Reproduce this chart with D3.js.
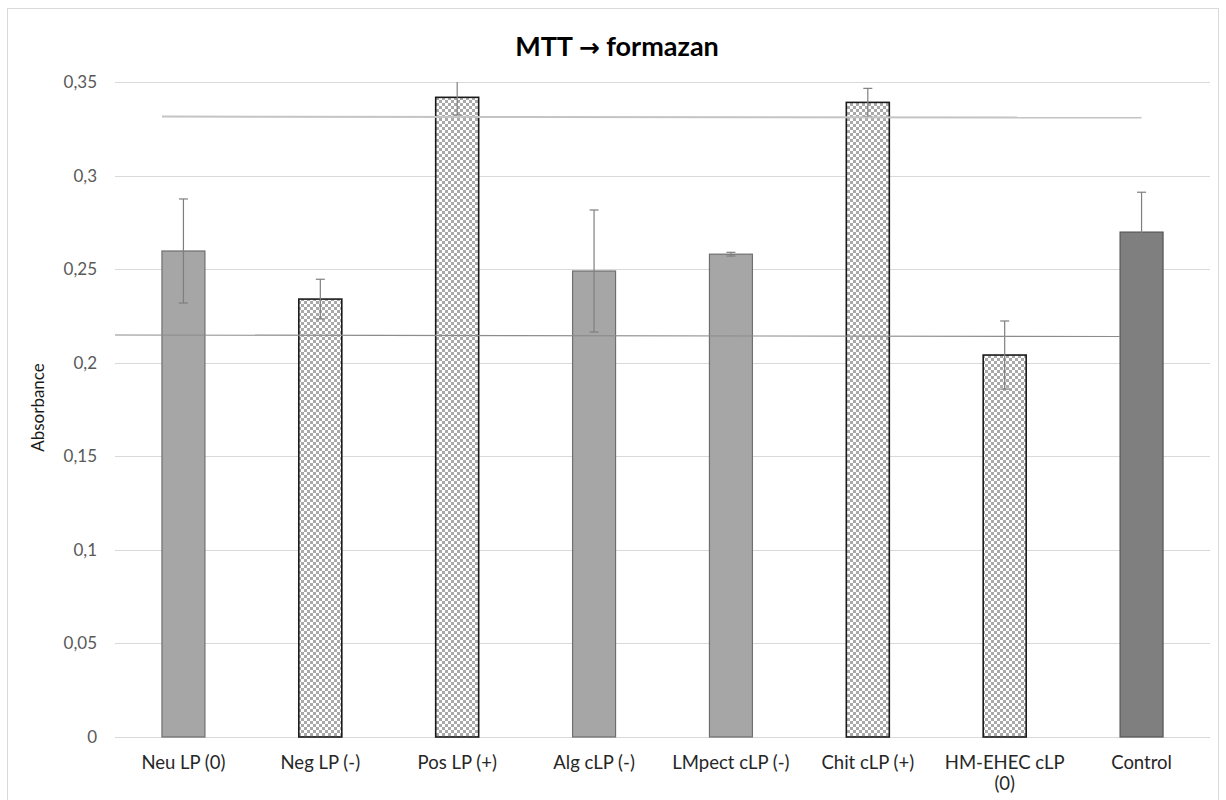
<!DOCTYPE html>
<html>
<head>
<meta charset="utf-8">
<script src="https://cdn.jsdelivr.net/npm/d3@7"></script>
<style>
  html, body { margin: 0; padding: 0; background: #fff; }
  svg { display: block; font-family: Lato, "Open Sans", "Liberation Sans", sans-serif; }
</style>
</head>
<body>
<svg id="chart" width="1226" height="800"></svg>
<script>
// ---- data ----
const categories = ["Neu LP (0)", "Neg LP (-)", "Pos LP (+)", "Alg cLP (-)", "LMpect cLP (-)", "Chit cLP (+)", "HM-EHEC cLP (0)", "Control"];
const values = [0.2597, 0.2340, 0.3418, 0.2490, 0.2580, 0.3391, 0.2041, 0.2698];
const errors = [0.0278, 0.0106, 0.0094, 0.0326, 0.0010, 0.0075, 0.0182, 0.0213];
const fillKinds = ["solid", "pattern", "pattern", "solid", "solid", "pattern", "pattern", "control"];
const yTicks = [0, 0.05, 0.1, 0.15, 0.2, 0.25, 0.3, 0.35];
const upperLine = [0.3315, 0.3310];   // start, end value
const lowerLine = [0.2148, 0.2140];   // start, end value
const titleParts = ["MTT ", "\u2192", " formazan"];
const yTitle = "Absorbance";

// ---- layout ----
const svg = d3.select("#chart");
const W = 1226, H = 800;
const m = { left: 115, right: 16, top: 82, bottom: 63 };
const plotW = W - m.left - m.right;
const plotH = H - m.top - m.bottom;

// chart border
svg.append("rect").attr("x", 7.5).attr("y", 8.5).attr("width", 1211).attr("height", 800)
  .attr("fill", "#fff").attr("stroke", "#d9d9d9").attr("stroke-width", 1);

const defs = svg.append("defs");
const pat = defs.append("pattern").attr("id", "checker").attr("patternUnits", "userSpaceOnUse")
  .attr("width", 6).attr("height", 6);
pat.append("rect").attr("width", 6).attr("height", 6).attr("fill", "#ffffff");
pat.append("rect").attr("width", 3).attr("height", 3).attr("fill", "#a9a9a9");
pat.append("rect").attr("x", 3).attr("y", 3).attr("width", 3).attr("height", 3).attr("fill", "#a9a9a9");

const clip = defs.append("clipPath").attr("id", "plotclip");
clip.append("rect").attr("x", 0).attr("y", 0).attr("width", plotW).attr("height", plotH);

const x = d3.scaleBand().domain(categories).range([0, plotW]).paddingInner(0.686).paddingOuter(0.343);
const y = d3.scaleLinear().domain([0, 0.35]).range([plotH, 0]);

const g = svg.append("g").attr("transform", `translate(${m.left},${m.top})`);

// gridlines
g.append("g").selectAll("line").data(yTicks).join("line")
  .attr("x1", 0).attr("x2", plotW)
  .attr("y1", d => Math.round(y(d)) + 0.5).attr("y2", d => Math.round(y(d)) + 0.5)
  .attr("stroke", "#d9d9d9").attr("stroke-width", 1);

// y axis labels
const yAxis = d3.axisLeft(y).tickValues(yTicks).tickSize(0).tickPadding(18)
  .tickFormat(d => d3.format("~g")(d).replace(".", ","));
const ya = g.append("g").call(yAxis);
ya.select(".domain").remove();
ya.selectAll("text").attr("font-size", 17).attr("font-family", "Lato, sans-serif").attr("fill", "#595959");

// bars
const fillFor = k => k === "pattern" ? "url(#checker)" : (k === "control" ? "#7f7f7f" : "#a6a6a6");
const strokeFor = k => k === "pattern" ? "#1a1a1a" : (k === "control" ? "#555555" : "#6f6f6f");
g.append("g").selectAll("rect").data(categories).join("rect")
  .attr("x", d => x(d)).attr("width", x.bandwidth())
  .attr("y", (d, i) => y(values[i])).attr("height", (d, i) => y(0) - y(values[i]))
  .attr("fill", (d, i) => fillFor(fillKinds[i]))
  .attr("stroke", (d, i) => strokeFor(fillKinds[i]))
  .attr("stroke-width", (d, i) => fillKinds[i] === "pattern" ? 1.6 : 1.2);

// error bars
const eg = g.append("g").attr("clip-path", "url(#plotclip)");
categories.forEach((c, i) => {
  const cx = x(c) + x.bandwidth() / 2;
  const hi = values[i] + errors[i], lo = values[i] - errors[i];
  eg.append("line").attr("x1", cx).attr("x2", cx).attr("y1", y(hi)).attr("y2", y(lo))
    .attr("stroke", "#7f7f7f").attr("stroke-width", 1.2);
  [hi, lo].forEach(v => {
    eg.append("line").attr("x1", cx - 4.5).attr("x2", cx + 4.5).attr("y1", y(v)).attr("y2", y(v))
      .attr("stroke", "#7f7f7f").attr("stroke-width", 1.2);
  });
});

// horizontal reference lines
const first = categories[0], last = categories[categories.length - 1];
g.append("line")
  .attr("x1", x(first)).attr("x2", x(last) + x.bandwidth() / 2)
  .attr("y1", y(upperLine[0])).attr("y2", y(upperLine[1]))
  .attr("stroke", "#c4c4c4").attr("stroke-width", 2);
g.append("line")
  .attr("x1", 0).attr("x2", x(last))
  .attr("y1", y(lowerLine[0])).attr("y2", y(lowerLine[1]))
  .attr("stroke", "#8c8c8c").attr("stroke-width", 1.2);

// x labels
const xl = g.append("g").attr("transform", `translate(0,${plotH})`);
categories.forEach(c => {
  const cx = x(c) + x.bandwidth() / 2;
  const words = c === "HM-EHEC cLP (0)" ? ["HM-EHEC cLP", "(0)"] : [c];
  words.forEach((w, j) => {
    xl.append("text").attr("x", cx).attr("y", 32 + j * 21)
      .attr("text-anchor", "middle").attr("font-size", 18.5).attr("fill", "#262626").text(w);
  });
});

// title
const t = svg.append("text").attr("x", 617).attr("y", 56).attr("text-anchor", "middle")
  .attr("font-size", 27).attr("font-weight", "bold").attr("fill", "#000");
t.append("tspan").text(titleParts[0]);
t.append("tspan").attr("font-family", "DejaVu Sans, sans-serif").attr("font-size", 25).text(titleParts[1]);
t.append("tspan").text(titleParts[2]);

// y title
svg.append("text").attr("transform", `translate(44,${m.top + plotH / 2 - 2}) rotate(-90)`)
  .attr("text-anchor", "middle").attr("font-size", 17).attr("fill", "#1a1a1a").text(yTitle);
</script>
</body>
</html>
